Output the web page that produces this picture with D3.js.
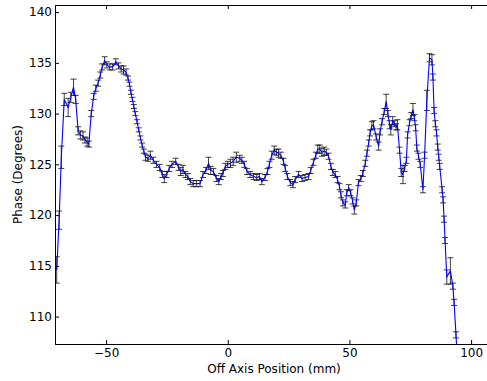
<!DOCTYPE html>
<html>
<head>
<meta charset="utf-8">
<script src="https://cdn.jsdelivr.net/npm/d3@7"></script>
<style>
  body { margin: 0; background: #fff; }
  svg { display: block; font-family: 'DejaVu Sans', sans-serif; }
</style>
</head>
<body>
<div id="chart"></div>
<script>
// Off axis position (mm)
const positions = [
  -70.3, -69.3, -68.4, -67.2, -65.6, -64.5, -63.4, -62.5, -61.5, -60.6,
  -59.5, -58.7, -57.8, -57.1, -56.1, -55.1, -54.2, -53.3, -52.4, -51.6,
  -50.6, -49.7, -48.5, -47.3, -46.0, -44.9, -43.8, -42.8, -41.8, -41.0,
  -40.4, -39.8, -39.2, -38.6, -38.0, -37.3, -36.6, -35.9, -35.2, -34.5,
  -33.8, -32.8, -31.8, -30.6, -29.3, -28.0, -26.9, -26.1, -25.1, -24.1,
  -22.9, -21.4, -20.2, -19.3, -18.4, -17.4, -16.4, -15.4, -14.2, -12.9,
  -11.4, -10.2, -9.0, -7.9, -7.0, -5.9, -4.7, -3.7, -2.8, -2.0,
  -1.0, 0.0, 1.1, 2.2, 3.5, 4.9, 5.8, 6.8, 7.9, 9.2,
  10.6, 11.9, 13.0, 14.0, 15.3, 16.3, 17.1, 18.1, 19.1, 20.0,
  20.9, 21.8, 22.9, 23.6, 24.5, 25.7, 26.8, 27.7, 29.1, 30.5,
  31.8, 33.2, 34.1, 35.2, 36.2, 37.0, 37.8, 38.7, 39.6, 40.5,
  41.4, 42.4, 43.2, 44.2, 45.1, 45.9, 46.5, 47.3, 48.3, 48.9,
  49.7, 50.5, 51.3, 52.0, 52.8, 53.7, 54.7, 55.5, 56.5, 57.2,
  57.9, 58.5, 59.2, 59.9, 61.0, 62.0, 62.6, 63.4, 64.3, 65.1,
  65.8, 66.5, 67.0, 67.8, 68.5, 69.2, 69.7, 70.6, 71.3, 72.0,
  72.7, 73.4, 73.9, 74.7, 75.4, 76.1, 76.7, 77.2, 77.7, 78.4,
  79.1, 80.2, 80.9, 81.8, 82.9, 83.9, 84.3, 84.8, 85.3, 85.8,
  86.3, 86.7, 87.1, 88.1, 88.5, 88.9, 89.3, 90.0, 91.5, 92.5,
  93.0, 93.8, 94.6
]

// Phase (degrees)
const phases = [
  114.6, 119.5, 125.7, 131.4, 130.6, 131.6, 132.6, 131.4, 128.3, 127.9,
  127.8, 127.4, 127.2, 127.0, 130.0, 131.7, 132.5, 133.0, 133.8, 134.6,
  135.2, 134.8, 134.6, 134.6, 135.1, 134.7, 134.4, 134.3, 134.1, 133.5,
  132.9, 132.1, 131.4, 130.7, 130.0, 129.2, 128.4, 127.6, 126.9, 126.3,
  125.7, 125.6, 125.9, 125.4, 125.0, 124.7, 124.0, 123.6, 124.0, 124.6,
  125.0, 125.3, 124.7, 124.3, 124.5, 124.0, 123.8, 123.3, 123.1, 123.1,
  123.1, 124.0, 124.4, 125.1, 124.4, 124.3, 123.6, 123.3, 123.8, 124.1,
  124.8, 125.0, 125.1, 125.3, 125.7, 125.6, 125.4, 125.0, 124.3, 124.0,
  123.8, 123.7, 123.8, 123.3, 123.7, 124.3, 125.0, 125.9, 126.4, 126.2,
  126.1, 125.9, 125.3, 124.6, 123.8, 123.2, 123.0, 123.5, 124.0, 123.6,
  123.7, 123.8, 124.4, 125.2, 125.9, 126.5, 126.5, 126.2, 126.3, 126.2,
  125.8, 124.8, 124.2, 124.0, 123.5, 122.8, 122.0, 121.2, 121.0, 122.2,
  122.7, 122.2, 121.4, 120.5, 121.2, 123.2, 123.6, 124.1, 125.1, 126.1,
  127.1, 128.1, 128.8, 128.9, 127.7, 126.8, 128.2, 129.2, 130.2, 131.2,
  130.0, 128.9, 128.4, 129.3, 129.0, 128.7, 128.9, 126.4, 124.2, 124.0,
  124.6, 125.4, 127.9, 129.1, 129.8, 130.4, 129.6, 128.6, 126.6, 125.8,
  125.0, 122.5, 125.9, 131.3, 135.5, 135.3, 133.6, 130.3, 129.0, 128.1,
  126.7, 125.7, 124.8, 122.5, 121.5, 119.6, 117.5, 113.9, 114.5, 113.0,
  111.4, 108.2, 104.5
]

// Error bar half widths (degrees)
const errors = [
  1.3, 0.9, 1.1, 0.6, 0.9, 0.5, 0.8, 0.4, 0.4, 0.4,
  0.4, 0.3, 0.4, 0.3, 0.3, 0.3, 0.3, 0.3, 0.3, 0.3,
  0.4, 0.3, 0.3, 0.3, 0.3, 0.3, 0.3, 0.4, 0.3, 0.2,
  0.2, 0.2, 0.2, 0.2, 0.2, 0.2, 0.2, 0.2, 0.2, 0.2,
  0.3, 0.3, 0.4, 0.3, 0.3, 0.3, 0.3, 0.4, 0.3, 0.3,
  0.3, 0.3, 0.3, 0.4, 0.4, 0.3, 0.3, 0.3, 0.3, 0.3,
  0.3, 0.3, 0.3, 0.6, 0.4, 0.3, 0.3, 0.3, 0.3, 0.3,
  0.3, 0.3, 0.4, 0.4, 0.5, 0.3, 0.3, 0.3, 0.3, 0.3,
  0.3, 0.3, 0.3, 0.3, 0.3, 0.3, 0.3, 0.4, 0.4, 0.3,
  0.4, 0.3, 0.3, 0.3, 0.3, 0.3, 0.3, 0.3, 0.3, 0.3,
  0.3, 0.3, 0.3, 0.3, 0.3, 0.4, 0.4, 0.4, 0.4, 0.3,
  0.3, 0.3, 0.3, 0.3, 0.3, 0.3, 0.3, 0.3, 0.3, 0.3,
  0.3, 0.3, 0.3, 0.4, 0.3, 0.3, 0.3, 0.3, 0.3, 0.3,
  0.3, 0.3, 0.4, 0.4, 0.3, 0.4, 0.3, 0.3, 0.3, 0.7,
  0.3, 0.4, 0.5, 0.4, 0.3, 0.3, 0.5, 0.3, 0.4, 0.9,
  0.3, 0.3, 0.3, 0.3, 0.3, 0.6, 0.3, 0.3, 0.3, 0.3,
  0.3, 0.3, 0.3, 1.0, 0.4, 0.5, 0.3, 0.3, 0.3, 0.3,
  0.3, 0.3, 0.3, 0.3, 0.3, 0.3, 0.3, 0.7, 1.3, 0.3,
  0.3, 0.3, 0.3
]

const xTicks = [-50, 0, 50, 100]
const yTicks = [110, 115, 120, 125, 130, 135, 140]

const width = 487
const height = 381
const margin = { top: 5, right: -6, bottom: 37, left: 55 }
const innerWidth = width - margin.left - margin.right
const innerHeight = height - margin.top - margin.bottom

const data = positions.map((p, i) => ({ x: p, y: phases[i], e: errors[i] }))

const svg = d3.select('#chart').append('svg')
  .attr('width', width)
  .attr('height', height)

const g = svg.append('g')
  .attr('transform', `translate(${margin.left},${margin.top})`)

const xScale = d3.scaleLinear()
  .domain([-71, 109])
  .range([0, innerWidth])

const yScale = d3.scaleLinear()
  .domain([107.3, 140.7])
  .range([innerHeight, 0])

g.append('clipPath')
  .attr('id', 'plot-clip')
  .append('rect')
  .attr('width', innerWidth)
  .attr('height', innerHeight)

const plot = g.append('g').attr('clip-path', 'url(#plot-clip)')

// Error bars
const bars = plot.append('g')
  .attr('stroke', '#000')
  .attr('stroke-width', 1)
  .attr('stroke-opacity', 0.75)
  .selectAll('g')
  .data(data)
  .join('g')

bars.append('line')
  .attr('x1', d => xScale(d.x))
  .attr('x2', d => xScale(d.x))
  .attr('y1', d => yScale(d.y - d.e))
  .attr('y2', d => yScale(d.y + d.e))

bars.append('line')
  .attr('x1', d => xScale(d.x) - 3)
  .attr('x2', d => xScale(d.x) + 3)
  .attr('y1', d => yScale(d.y - d.e))
  .attr('y2', d => yScale(d.y - d.e))

bars.append('line')
  .attr('x1', d => xScale(d.x) - 3)
  .attr('x2', d => xScale(d.x) + 3)
  .attr('y1', d => yScale(d.y + d.e))
  .attr('y2', d => yScale(d.y + d.e))

// Data line
plot.append('path')
  .datum(data)
  .attr('fill', 'none')
  .attr('stroke', '#0000ff')
  .attr('stroke-width', 1.1)
  .attr('d', d3.line().x(d => xScale(d.x)).y(d => yScale(d.y)))

// Axes, matplotlib style: ticks point inwards on all sides
const fmt = d => d < 0 ? '\u2212' + Math.abs(d) : String(d)

g.append('g')
  .attr('transform', `translate(0,${innerHeight})`)
  .call(d3.axisBottom(xScale).tickValues(xTicks).tickSize(-4).tickPadding(4).tickFormat(fmt))

const topAxis = g.append('g')
  .call(d3.axisTop(xScale).tickValues(xTicks).tickSize(-4))
topAxis.selectAll('text').remove()

g.append('g')
  .call(d3.axisLeft(yScale).tickValues(yTicks).tickSize(-4).tickPadding(3).tickFormat(fmt))

const rightAxis = g.append('g')
  .attr('transform', `translate(${innerWidth},0)`)
  .call(d3.axisRight(yScale).tickValues(yTicks).tickSize(-4))
rightAxis.selectAll('text').remove()

g.selectAll('.domain').attr('stroke', '#000').attr('stroke-width', 1)
g.selectAll('.tick line').attr('stroke', '#000')
g.selectAll('.tick text')
  .attr('fill', '#000')
  .style('font-size', '12px')
  .style('font-family', "'DejaVu Sans', sans-serif")

// Axis labels
svg.append('text')
  .attr('x', margin.left + innerWidth / 2)
  .attr('y', 373)
  .attr('text-anchor', 'middle')
  .style('font-size', '12px')
  .text('Off Axis Position (mm)')

svg.append('text')
  .attr('transform', `translate(22,${margin.top + innerHeight / 2}) rotate(-90)`)
  .attr('text-anchor', 'middle')
  .style('font-size', '12px')
  .text('Phase (Degrees)')
</script>
</body>
</html>
